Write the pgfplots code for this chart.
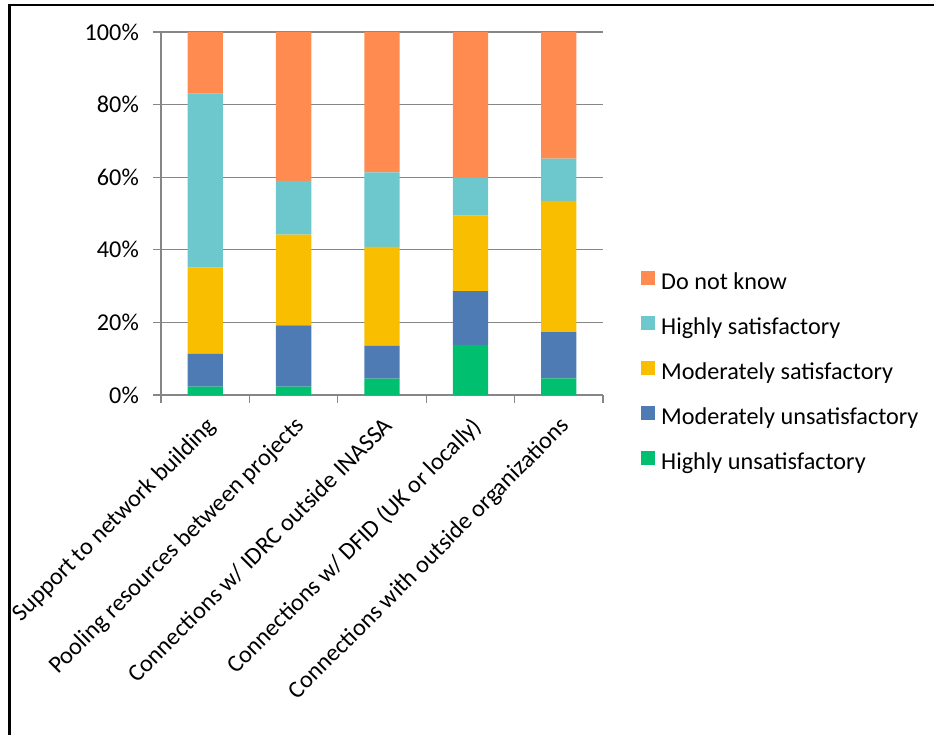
\documentclass[border=0pt]{standalone}
\usepackage{fontspec}
\setmainfont{Carlito}
\usepackage{pgfplots}
\pgfplotsset{compat=1.18}
\definecolor{cO}{RGB}{255,139,80}
\definecolor{cT}{RGB}{108,200,204}
\definecolor{cY}{RGB}{249,190,0}
\definecolor{cB}{RGB}{79,123,181}
\definecolor{cG}{RGB}{0,191,110}
\definecolor{gridgray}{RGB}{134,134,134}
\newcommand{\lblfont}{\fontsize{24.2pt}{29pt}\selectfont}
\begin{document}
\begin{tikzpicture}
\useasboundingbox (0,0) rectangle (934pt,735pt);
\draw[black, line width=2.3pt] (9.5pt,0pt) -- (9.5pt,731pt);
\draw[black, line width=1.7pt] (8.4pt,730pt) -- (934pt,730pt);
\begin{axis}[
  at={(161pt,340pt)}, anchor=south west,
  width=442pt, height=363pt, scale only axis,
  xmin=0, xmax=5, ymin=0, ymax=100,
  axis lines*=left,
  axis line style={draw=gridgray, line width=1.3pt},
  ybar stacked, bar width=35.3pt,
  xtick={0,1,2,3,4,5},
  xticklabels={},
  extra x ticks={0.5,1.5,2.5,3.5,4.5},
  extra x tick labels={Support to network building,Pooling resources between projects,Connections w/ IDRC outside INASSA,Connections w/ DFID (UK or locally),Connections with outside organizations},
  extra x tick style={major tick length=0pt},
  xticklabel style={rotate=45, anchor=north east, inner sep=0pt, font=\lblfont},
  xticklabel shift=20pt,
  ytick={0,20,40,60,80,100},
  yticklabels={0\%,20\%,40\%,60\%,80\%,100\%},
  yticklabel style={anchor=east, inner sep=0pt, font=\lblfont},
  yticklabel shift=14pt,
  major tick length=8pt,
  tick align=outside,
  tick style={draw=gridgray, line width=1.3pt},
  ymajorgrids, grid style={draw=gridgray, line width=1.3pt},
  legend cell align=left,
  reverse legend,
  legend image code/.code={\fill[#1] (0pt,-1pt) rectangle (14pt,13pt);},
  legend style={draw=none, fill=none, at={(1.0860,0.3418)}, anchor=north west,
    inner sep=0pt, row sep=21.4pt, column sep=6pt, font=\lblfont,
    nodes={inner sep=0pt, text height=16pt, text depth=5pt}},
]
\addplot[fill=cG, draw=none] coordinates {(0.5,2.3) (1.5,2.3) (2.5,4.5) (3.5,13.8) (4.5,4.6)};
\addplot[fill=cB, draw=none] coordinates {(0.5,9.0) (1.5,16.9) (2.5,9.1) (3.5,14.8) (4.5,12.7)};
\addplot[fill=cY, draw=none] coordinates {(0.5,23.8) (1.5,25.0) (2.5,27.2) (3.5,20.8) (4.5,36.2)};
\addplot[fill=cT, draw=none] coordinates {(0.5,47.9) (1.5,14.8) (2.5,20.5) (3.5,10.4) (4.5,11.6)};
\addplot[fill=cO, draw=none] coordinates {(0.5,17.0) (1.5,41.0) (2.5,38.7) (3.5,40.2) (4.5,34.9)};
\legend{Highly unsatisfactory,Moderately unsatisfactory,Moderately satisfactory,Highly satisfactory,Do not know}
\end{axis}
\end{tikzpicture}
\end{document}
